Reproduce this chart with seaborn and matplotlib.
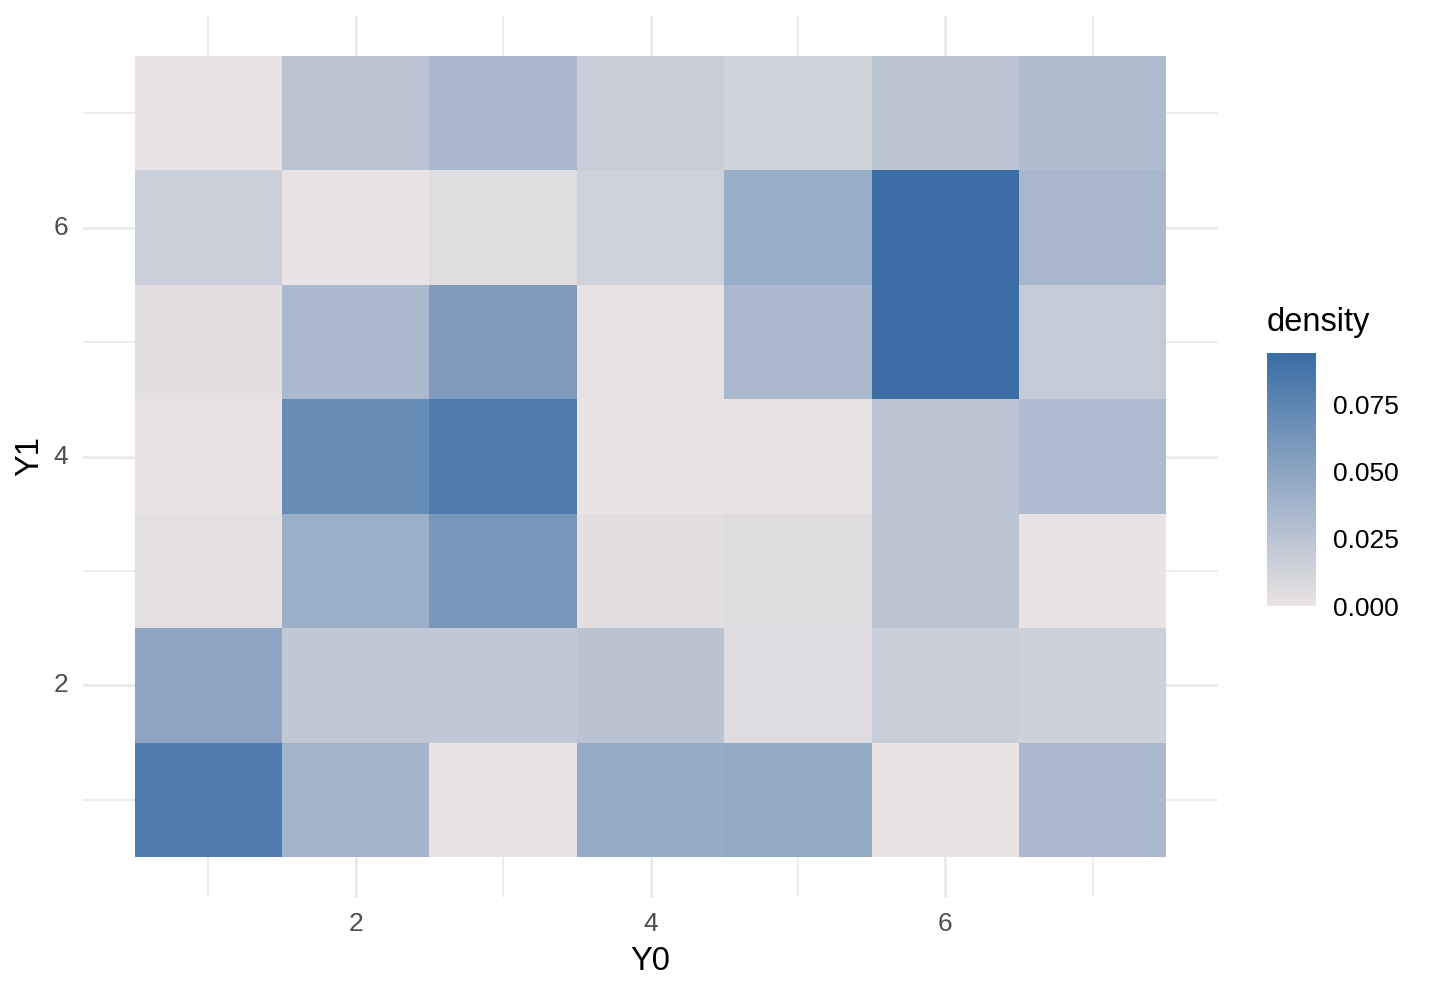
import numpy as np
import pandas as pd
import matplotlib
matplotlib.use("Agg")
import matplotlib.pyplot as plt
import seaborn as sns
from matplotlib.colors import LinearSegmentedColormap

# --- data: density per cell, rows y1..y7 (bottom to top), columns Y0 = 1..7 ---
y0_vals = [1, 2, 3, 4, 5, 6, 7]
y1_vals = [1, 2, 3, 4, 5, 6, 7]
row_y1 = [0.083, 0.037, 0.000, 0.044, 0.047, 0.000, 0.034]
row_y2 = [0.049, 0.022, 0.022, 0.026, 0.0065, 0.017, 0.015]
row_y3 = [0.003, 0.042, 0.061, 0.004, 0.006, 0.025, 0.000]
row_y4 = [0.000, 0.070, 0.083, 0.000, 0.000, 0.024, 0.031]
row_y5 = [0.004, 0.034, 0.057, 0.001, 0.034, 0.0943, 0.020]
row_y6 = [0.016, 0.000, 0.005, 0.014, 0.043, 0.0943, 0.035]
row_y7 = [0.000, 0.025, 0.035, 0.018, 0.013, 0.024, 0.032]
cbar_ticks = [0.0, 0.025, 0.05, 0.075]

dens = pd.DataFrame([row_y1, row_y2, row_y3, row_y4, row_y5, row_y6, row_y7],
                    index=y1_vals, columns=y0_vals)

sns.set_style("white")
plt.rcParams['font.family'] = ['Liberation Sans', 'DejaVu Sans']

cmap = LinearSegmentedColormap.from_list("dens", ["#E9E3E3", "#3A6EA5"])

fig = plt.figure(figsize=(14.3, 9.9), dpi=100)
ax = fig.add_axes([83/1430, 93/990, 1135/1430, 881/990])
cax = fig.add_axes([1267/1430, 384/990, 49/1430, 253/990])

sns.heatmap(dens, ax=ax, cmap=cmap, vmin=0, vmax=max(max(row_y5), max(row_y6)),
            cbar_ax=cax, linewidths=0)

# ggplot-like expanded limits, y increasing upward
ax.set_xlim(-0.35, 7.35)
ax.set_ylim(-0.35, 7.35)

ax.set_xticks([1.5, 3.5, 5.5])
ax.set_xticklabels(["2", "4", "6"], rotation=0)
ax.set_yticks([1.5, 3.5, 5.5])
ax.set_yticklabels(["2", "4", "6"], rotation=0)
ax.set_xticks([0.5, 2.5, 4.5, 6.5], minor=True)
ax.set_yticks([0.5, 2.5, 4.5, 6.5], minor=True)
ax.tick_params(which="both", length=0)
ax.tick_params(axis="x", pad=11, labelsize=19, labelcolor="#4D4D4D")
ax.tick_params(axis="y", pad=10.5, labelsize=19, labelcolor="#4D4D4D")

ax.set_axisbelow(True)
ax.grid(which="major", color="#EBEBEB", linewidth=2.2)
ax.grid(which="minor", color="#EBEBEB", linewidth=1.3)
for s in ax.spines.values():
    s.set_visible(False)

ax.set_xlabel("Y0", fontsize=23.5, labelpad=7, color="black")
ax.set_ylabel("Y1", fontsize=23.5, labelpad=6, color="black")

cb = ax.collections[0].colorbar
cb.set_ticks(cbar_ticks)
cb.set_ticklabels(["0.000", "0.025", "0.050", "0.075"])
cb.outline.set_linewidth(0)
cax.tick_params(direction="in", color="white", length=10, width=1.2,
                left=True, right=True, labelleft=False, labelright=True,
                pad=12, labelsize=19, labelcolor="black")
fig.text(1267/1430, (990-323)/990, "density", fontsize=23.5, va="center", ha="left",
         color="black")

fig.savefig("out.png", dpi=100, facecolor="white")
